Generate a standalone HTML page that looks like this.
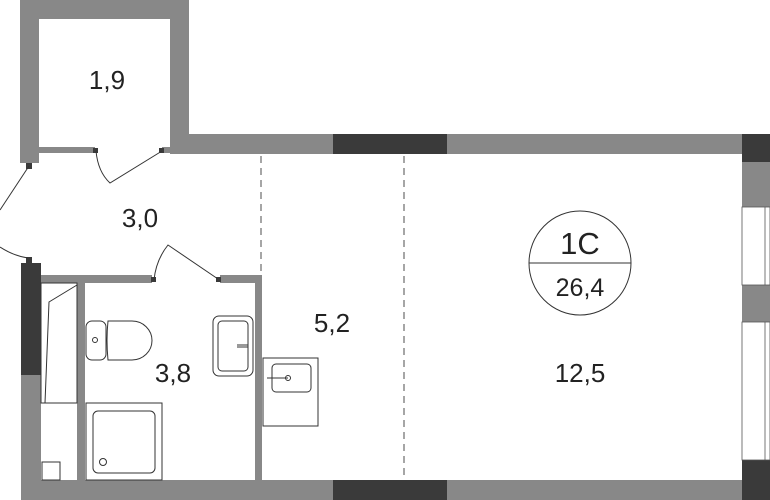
<!DOCTYPE html>
<html><head><meta charset="utf-8"><style>body{margin:0;background:#fff}svg{display:block}</style></head>
<body>
<svg width="770" height="500" viewBox="0 0 770 500" xmlns="http://www.w3.org/2000/svg" font-family="Liberation Sans, sans-serif">
<g fill="#888">
<rect x="20" y="0" width="169" height="19"/>
<rect x="20" y="0" width="19" height="163"/>
<rect x="170" y="0" width="19" height="154"/>
<rect x="170" y="134" width="573" height="20"/>
<rect x="39" y="147" width="56" height="6"/>
<rect x="162" y="147" width="8" height="6"/>
<rect x="21" y="263" width="20" height="237"/>
<rect x="21" y="480" width="722" height="20"/>
<rect x="41" y="275" width="111" height="8"/>
<rect x="220" y="275" width="42" height="8"/>
<rect x="255" y="275" width="7" height="205"/>
<rect x="77" y="283" width="8" height="197"/>
<rect x="742" y="134" width="28" height="366"/>
</g>
<g fill="#3a3a3a">
<rect x="333" y="134" width="114" height="20"/>
<rect x="333" y="480" width="114" height="20"/>
<rect x="21" y="263" width="20" height="112"/>
<rect x="742" y="134" width="28" height="28"/>
<rect x="742" y="460" width="28" height="40"/>
<rect x="26" y="163" width="6" height="6"/>
<rect x="26" y="257" width="6" height="6"/>
<rect x="93" y="148" width="5" height="5"/>
<rect x="159" y="148" width="5" height="5"/>
<rect x="151" y="277" width="5" height="5"/>
<rect x="216" y="277" width="5" height="5"/>
</g>
<g fill="#fff" stroke="#555" stroke-width="0.8">
<rect x="742" y="207" width="28" height="78"/>
<rect x="742" y="322" width="28" height="138"/>
</g>
<line x1="765" y1="207" x2="765" y2="285" stroke="#555" stroke-width="0.8"/>
<line x1="765" y1="322" x2="765" y2="460" stroke="#555" stroke-width="0.8"/>
<g fill="none" stroke="#333" stroke-width="1">
<path d="M96 151 Q98 172 110 183 L162 151"/>
<path d="M29 166 L0 210"/>
<path d="M0 247 Q14 256 28 258"/>
<path d="M154 280 Q156 260 168 245 L218 279"/>
<rect x="41" y="283" width="36" height="120"/>
<path d="M77 285 L49 302 L45 403"/>
<rect x="42" y="462" width="18" height="18"/>
<rect x="86" y="321" width="20" height="39" rx="6"/>
<path d="M108 321 H132 A20 19.5 0 0 1 132 360 H108 Q106 340 108 321Z"/>
<circle cx="95" cy="340" r="2.5"/>
<rect x="86" y="403" width="76" height="77"/>
<rect x="93" y="411" width="62" height="62" rx="5"/>
<circle cx="103" cy="462" r="3.5"/>
<rect x="213" y="316" width="40" height="60" rx="6"/>
<rect x="218" y="321" width="30" height="50" rx="4"/>
<path d="M237 345 H248 M237 347 H248"/>
<rect x="263" y="358" width="55" height="68"/>
<rect x="272" y="364" width="39" height="28" rx="4"/>
<path d="M267 378 H288"/><circle cx="288" cy="378" r="2.5"/>
</g>
<g stroke="#777" stroke-width="1.3" stroke-dasharray="7,5">
<line x1="261" y1="156" x2="261" y2="273"/>
<line x1="404" y1="156" x2="404" y2="478"/>
</g>
<ellipse cx="580" cy="263" rx="51" ry="52" fill="none" stroke="#333" stroke-width="1"/>
<line x1="529" y1="263" x2="631" y2="263" stroke="#333" stroke-width="1"/>
<g fill="#222" text-anchor="middle" font-size="26">
<text x="107" y="89">1,9</text>
<text x="140" y="227">3,0</text>
<text x="173" y="382">3,8</text>
<text x="332" y="332">5,2</text>
<text x="580" y="382">12,5</text>
<text x="580" y="254" font-size="31">1C</text>
<text x="580" y="296" font-size="25">26,4</text>
</g>
</svg>
</body></html>
